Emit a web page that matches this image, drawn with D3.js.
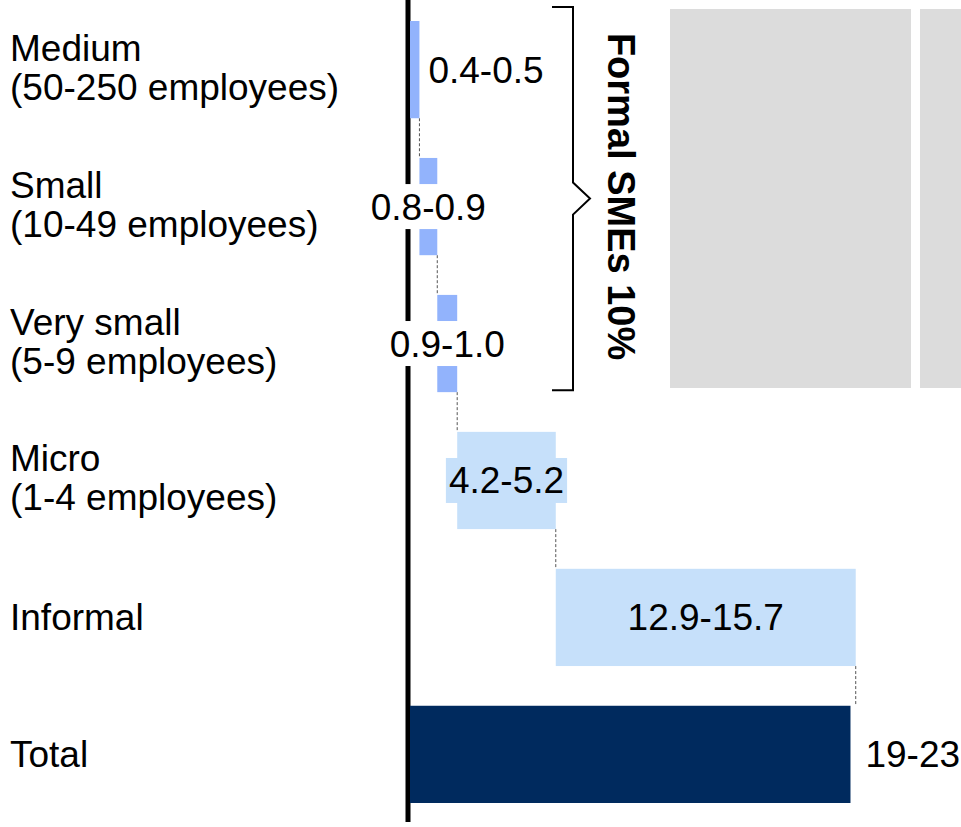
<!DOCTYPE html>
<html>
<head>
<meta charset="utf-8">
<script src="https://cdn.jsdelivr.net/npm/d3@7"></script>
<style>
  html, body { margin: 0; padding: 0; background: #fff; }
  svg { display: block; font-family: Arial, "Liberation Sans", sans-serif; }
</style>
</head>
<body>
<svg id="chart" width="961" height="827"></svg>
<script>
// Employment by firm size (millions), shown as low-high ranges
const categories = ["Medium", "Small", "Very small", "Micro", "Informal", "Total"];
const subLabels  = ["(50-250 employees)", "(10-49 employees)", "(5-9 employees)", "(1-4 employees)", "", ""];
const lowValues  = [0.4, 0.8, 0.9, 4.2, 12.9, 19];
const highValues = [0.5, 0.9, 1.0, 5.2, 15.7, 23];
const valueLabels = ["0.4-0.5", "0.8-0.9", "0.9-1.0", "4.2-5.2", "12.9-15.7", "19-23"];
const bracketLabel = "Formal SMEs 10%";

const svg = d3.select("#chart");
const fontSize = 37;

// Bar length = midpoint of each range
const mids = lowValues.map((lo, i) => (lo + highValues[i]) / 2);
const rows = [];
let running = 0;
categories.forEach((c, i) => {
  const isTotal = i === categories.length - 1;
  const x0 = isTotal ? 0 : running;
  const x1 = isTotal ? mids[i] : running + mids[i];
  if (!isTotal) running = x1;
  rows.push({ cat: c, sub: subLabels[i], label: valueLabels[i], x0, x1, i });
});

const x = d3.scaleLinear().domain([0, 21.12]).range([410, 853]);
const y = d3.scaleBand().domain(categories).range([21, 803]).paddingInner(0.29).paddingOuter(0);

const colorFor = i => i === 5 ? "#002a5e" : (i >= 3 ? "#c6e0fa" : "#92b3fc");

// Decorative grey panels on the right
svg.append("rect").attr("x", 670).attr("y", 9).attr("width", 241).attr("height", 379).attr("fill", "#dcdcdc");
svg.append("rect").attr("x", 920).attr("y", 9).attr("width", 60).attr("height", 379).attr("fill", "#dcdcdc");

// Baseline axis
svg.append("line")
  .attr("x1", 408).attr("x2", 408).attr("y1", 0).attr("y2", 822)
  .attr("stroke", "#000").attr("stroke-width", 5);

// Dashed connectors between consecutive bars
const conn = svg.append("g");
rows.slice(0, -1).forEach((r, k) => {
  const next = rows[k + 1];
  conn.append("line")
    .attr("x1", x(r.x1)).attr("x2", x(r.x1))
    .attr("y1", y(r.cat) + y.bandwidth()).attr("y2", y(next.cat))
    .attr("stroke", "#555").attr("stroke-width", 1).attr("stroke-dasharray", "3,2");
});

// Bars
svg.append("g").selectAll("rect").data(rows).join("rect")
  .attr("x", d => x(d.x0))
  .attr("y", d => y(d.cat))
  .attr("width", d => x(d.x1) - x(d.x0))
  .attr("height", y.bandwidth())
  .attr("fill", d => colorFor(d.i));

// Category labels
const catG = svg.append("g");
rows.forEach(r => {
  const c = y(r.cat) + y.bandwidth() / 2;
  if (r.sub) {
    const t = catG.append("text").attr("x", 10).attr("font-size", fontSize).attr("fill", "#000");
    t.append("tspan").attr("x", 10).attr("y", c - 9).text(r.cat);
    t.append("tspan").attr("x", 10).attr("y", c + 30).text(r.sub);
  } else {
    catG.append("text").attr("x", 10).attr("y", c + 13)
      .attr("font-size", fontSize).attr("fill", "#000").text(r.cat);
  }
});

// Value labels
const valG = svg.append("g");
rows.forEach(r => {
  const c = y(r.cat) + y.bandwidth() / 2;
  const xc = (x(r.x0) + x(r.x1)) / 2;
  let tx, anchor = "middle", bg = null;
  if (r.i === 0) { tx = x(r.x1) + 9; anchor = "start"; }
  else if (r.i === 1 || r.i === 2) { tx = xc; bg = "#fff"; }
  else if (r.i === 3) { tx = xc; bg = colorFor(3); }
  else if (r.i === 4) { tx = xc; }
  else { tx = x(r.x1) + 15; anchor = "start"; }
  const t = valG.append("text")
    .attr("x", tx).attr("y", c + 13)
    .attr("text-anchor", anchor)
    .attr("font-size", fontSize).attr("fill", "#000")
    .text(r.label);
  if (bg) {
    const b = t.node().getBBox();
    valG.insert("rect", () => t.node())
      .attr("x", b.x - 3).attr("y", c - 22.5)
      .attr("width", b.width + 6).attr("height", 45)
      .attr("fill", bg);
  }
});

// Bracket grouping the formal SME rows
const yTop = y(categories[0]) - 14;
const yBot = y(categories[2]) + y.bandwidth() - 2;
const yMid = (yTop + yBot) / 2;
svg.append("path")
  .attr("d", `M552,${yTop} H573 V${yMid - 16} L590,${yMid} L573,${yMid + 16} V${yBot} H552`)
  .attr("fill", "none").attr("stroke", "#000").attr("stroke-width", 2);

svg.append("text")
  .attr("transform", `translate(608,${yMid - 2}) rotate(90)`)
  .attr("text-anchor", "middle")
  .attr("font-size", 38).attr("font-weight", "bold").attr("fill", "#000")
  .text(bracketLabel);
</script>
</body>
</html>
